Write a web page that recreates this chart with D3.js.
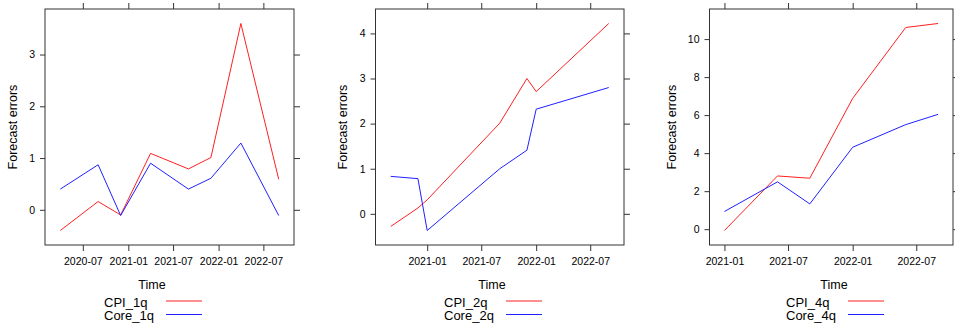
<!DOCTYPE html>
<html>
<head>
<meta charset="utf-8">
<script src="https://cdn.jsdelivr.net/npm/d3@7"></script>
<style>
  body { margin: 0; background: #fff; }
  text { font-family: "Liberation Sans", Arial, sans-serif; fill: #000; }
</style>
</head>
<body>
<div id="chart"></div>
<script>
// Data
var dates1 = ["2020-04-01", "2020-09-01", "2020-12-01", "2021-04-01", "2021-09-01", "2021-12-01", "2022-04-01", "2022-09-01"];
var cpi1q = [-0.40, 0.16, -0.10, 1.09, 0.79, 1.01, 3.60, 0.59];
var core1q = [0.40, 0.87, -0.11, 0.90, 0.40, 0.61, 1.29, -0.11];

var dates2 = ["2020-09-01", "2020-12-01", "2021-01-01", "2021-09-01", "2021-12-01", "2022-01-01", "2022-09-01"];
var cpi2q = [-0.28, 0.13, 0.31, 2.01, 3.00, 2.71, 4.22];
var core2q = [0.83, 0.78, -0.37, 1.00, 1.41, 2.32, 2.80];

var dates4 = ["2021-01-01", "2021-06-01", "2021-09-01", "2022-01-01", "2022-06-01", "2022-09-01"];
var cpi4q = [-0.07, 2.80, 2.68, 6.88, 10.61, 10.82];
var core4q = [0.93, 2.49, 1.33, 4.31, 5.50, 6.04];

var xTicks1 = ["2020-07-01", "2021-01-01", "2021-07-01", "2022-01-01", "2022-07-01"];
var xTicks2 = ["2021-01-01", "2021-07-01", "2022-01-01", "2022-07-01"];
var xTicks4 = ["2021-01-01", "2021-07-01", "2022-01-01", "2022-07-01"];
var yTicks1 = [0, 1, 2, 3];
var yTicks2 = [0, 1, 2, 3, 4];
var yTicks4 = [0, 2, 4, 6, 8, 10];

var seriesNames = [["CPI_1q", "Core_1q"], ["CPI_2q", "Core_2q"], ["CPI_4q", "Core_4q"]];

var parse = d3.timeParse("%Y-%m-%d");

// Panel layout (pixel positions of each plot box)
var panels = [
  { dates: dates1, red: cpi1q, blue: core1q, xt: xTicks1, yt: yTicks1, names: seriesNames[0],
    left: 45, right: 294, ylabX: 13, timeX: 152 },
  { dates: dates2, red: cpi2q, blue: core2q, xt: xTicks2, yt: yTicks2, names: seriesNames[1],
    left: 375.5, right: 624, ylabX: 343, timeX: 492 },
  { dates: dates4, red: cpi4q, blue: core4q, xt: xTicks4, yt: yTicks4, names: seriesNames[2],
    left: 709.5, right: 953, ylabX: 672, timeX: 834 }
];

var plotTop = 9, plotBottom = 245;
var pad = 0.07;

var svg = d3.select("#chart")
  .append("svg")
  .attr("width", 955)
  .attr("height", 325);

panels.forEach(function(p) {
  var dts = p.dates.map(parse);

  // padded domains like lattice
  var t0 = d3.min(dts), t1 = d3.max(dts);
  var dt = (t1 - t0) * pad;
  var xScale = d3.scaleTime()
    .domain([new Date(+t0 - dt), new Date(+t1 + dt)])
    .range([p.left, p.right]);

  var all = p.red.concat(p.blue);
  var v0 = d3.min(all), v1 = d3.max(all);
  var dv = (v1 - v0) * pad;
  var yScale = d3.scaleLinear()
    .domain([v0 - dv, v1 + dv])
    .range([plotBottom, plotTop]);

  var xt = p.xt.map(parse);
  var fmt = d3.timeFormat("%Y-%m");

  // bottom axis with labels
  var gB = svg.append("g")
    .attr("transform", `translate(0, ${plotBottom})`)
    .call(d3.axisBottom(xScale).tickValues(xt).tickFormat(fmt).tickSize(6).tickSizeOuter(0).tickPadding(7));
  // top axis, ticks only
  var gT = svg.append("g")
    .attr("transform", `translate(0, ${plotTop})`)
    .call(d3.axisTop(xScale).tickValues(xt).tickFormat("").tickSize(6).tickSizeOuter(0));
  // left axis with labels
  var gL = svg.append("g")
    .attr("transform", `translate(${p.left}, 0)`)
    .call(d3.axisLeft(yScale).tickValues(p.yt).tickFormat(d3.format("d")).tickSize(5).tickSizeOuter(0).tickPadding(5));
  // right axis, ticks only
  var gR = svg.append("g")
    .attr("transform", `translate(${p.right}, 0)`)
    .call(d3.axisRight(yScale).tickValues(p.yt).tickFormat("").tickSize(6).tickSizeOuter(0));

  [gB, gT, gL, gR].forEach(function(g) {
    g.select(".domain").remove();
    g.selectAll(".tick line").attr("stroke", "#333");
    g.selectAll(".tick text")
      .style("font-family", "'Liberation Sans', Arial, sans-serif")
      .style("font-size", "10.5px")
      .attr("fill", "#222");
  });

  // plot box
  svg.append("rect")
    .attr("x", p.left)
    .attr("y", plotTop)
    .attr("width", p.right - p.left)
    .attr("height", plotBottom - plotTop)
    .attr("fill", "none")
    .attr("stroke", "#333")
    .attr("stroke-width", 1);

  var line = d3.line()
    .x(function(d) { return xScale(d.t); })
    .y(function(d) { return yScale(d.v); });

  var redData = dts.map(function(t, i) { return { t: t, v: p.red[i] }; });
  var blueData = dts.map(function(t, i) { return { t: t, v: p.blue[i] }; });

  svg.append("path")
    .datum(redData)
    .attr("d", line)
    .attr("fill", "none")
    .attr("stroke", "#ff2020")
    .attr("stroke-width", 1);

  svg.append("path")
    .datum(blueData)
    .attr("d", line)
    .attr("fill", "none")
    .attr("stroke", "#2020ff")
    .attr("stroke-width", 1);

  // axis titles
  svg.append("text")
    .attr("transform", `translate(${p.ylabX + 4}, ${(plotTop + plotBottom) / 2}) rotate(-90)`)
    .attr("text-anchor", "middle")
    .style("font-size", "12.5px")
    .text("Forecast errors");

  svg.append("text")
    .attr("x", p.timeX)
    .attr("y", 289)
    .attr("text-anchor", "middle")
    .style("font-size", "12.5px")
    .text("Time");

  // legend
  var lx = p.timeX - 48;
  var colors = ["#ff2020", "#2020ff"];
  p.names.forEach(function(name, i) {
    svg.append("text")
      .attr("x", lx)
      .attr("y", 306.5 + i * 13.5)
      .style("font-size", "13px")
      .text(name);
    svg.append("line")
      .attr("x1", lx + 62)
      .attr("x2", lx + 98)
      .attr("y1", 301 + i * 13.5)
      .attr("y2", 301 + i * 13.5)
      .attr("stroke", colors[i])
      .attr("stroke-width", 1);
  });
});
</script>
</body>
</html>
